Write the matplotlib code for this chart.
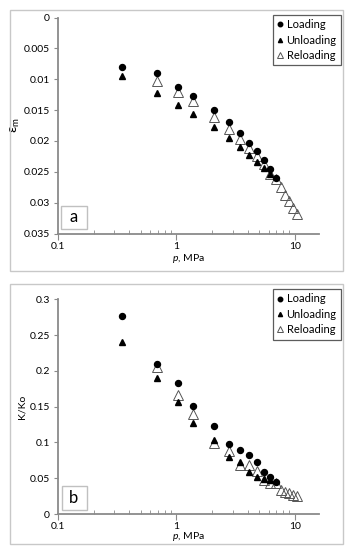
import matplotlib
matplotlib.use('Agg')
import matplotlib.pyplot as plt
from matplotlib.patches import Rectangle
from matplotlib.ticker import LogLocator, FixedLocator, NullFormatter, FuncFormatter

plt.rcParams['font.family'] = ['Lato', 'DejaVu Sans']
plt.rcParams['mathtext.fontset'] = 'custom'
plt.rcParams['mathtext.rm'] = 'Lato'
plt.rcParams['mathtext.it'] = 'Lato:italic'

# pressure steps, MPa
p_load = [0.345, 0.69, 1.03, 1.38, 2.07, 2.76, 3.45, 4.14, 4.83, 5.52, 6.21, 6.90]
p_unload = [0.345, 0.69, 1.03, 1.38, 2.07, 2.76, 3.45, 4.14, 4.83, 5.52, 6.21]
p_reload = [0.69, 1.03, 1.38, 2.07, 2.76, 3.45, 4.14, 4.83, 5.52, 6.21, 6.90,
            7.58, 8.27, 8.96, 9.65, 10.34]

# panel a: strain
eps_load = [0.0080, 0.0090, 0.0112, 0.0128, 0.0150, 0.0170, 0.0187, 0.0203,
            0.0217, 0.0231, 0.0246, 0.0260]
eps_unload = [0.0095, 0.0123, 0.0141, 0.0156, 0.0177, 0.0195, 0.0210, 0.0222,
              0.0234, 0.0244, 0.0254]
eps_reload = [0.0103, 0.0120, 0.0135, 0.0161, 0.0181, 0.0197, 0.0212, 0.0225,
              0.0238, 0.0253, 0.0262, 0.0275, 0.0287, 0.0298, 0.0308, 0.0319]

# panel b: K/Ko
k_load = [0.276, 0.209, 0.183, 0.151, 0.123, 0.098, 0.090, 0.082, 0.073,
          0.059, 0.052, 0.045]
k_unload = [0.240, 0.190, 0.156, 0.127, 0.103, 0.079, 0.072, 0.058, 0.052,
            0.049, 0.047]
k_reload = [0.206, 0.166, 0.140, 0.099, 0.088, 0.069, 0.068, 0.060, 0.047,
            0.044, 0.043, 0.034, 0.031, 0.029, 0.0265, 0.0255]

W, H = 353, 550
fig = plt.figure(figsize=(W / 100, H / 100), dpi=100)

def px_axes(x0, y0, x1, y1):
    return fig.add_axes([x0 / W, 1 - y1 / H, (x1 - x0) / W, (y1 - y0) / H])

def frame(y0, y1):
    fig.patches.append(Rectangle((9.5 / W, 1 - y1 / H), (343 - 9.5) / W, (y1 - y0) / H,
                                 transform=fig.transFigure, fill=False,
                                 edgecolor='#c8c8c8', lw=1.0))

def style(ax):
    for s in ['top', 'right']:
        ax.spines[s].set_visible(False)
    for s in ['left', 'bottom']:
        ax.spines[s].set_color('#8a8a8a')
        ax.spines[s].set_linewidth(1.3)
    ax.set_xscale('log')
    ax.set_xlim(0.1, 16)
    ax.xaxis.set_major_locator(FixedLocator([0.1, 1, 10]))
    ax.xaxis.set_major_formatter(FuncFormatter(lambda v, pos: '%g' % v))
    ax.xaxis.set_minor_locator(LogLocator(base=10, subs=range(2, 10)))
    ax.xaxis.set_minor_formatter(NullFormatter())
    ax.tick_params(axis='x', which='major', direction='out', length=4, color='#8a8a8a',
                   labelsize=7.5, pad=2)
    ax.tick_params(axis='x', which='minor', direction='in', length=3, color='#8a8a8a')
    ax.tick_params(axis='y', direction='out', length=3, color='#8a8a8a', labelsize=7.5, pad=3)
    ax.set_xlabel(r'$p$, MPa', fontsize=7.5, labelpad=1)

def draw(ax, yl, yu, yr):
    ax.plot(p_load, yl, 'o', color='black', ms=4.3, label='Loading', zorder=3)
    ax.plot(p_unload, yu, '^', color='black', ms=4.0, label='Unloading', zorder=3)
    ax.plot(p_reload, yr, '^', mfc='none', mec='#555555', mew=0.7, ms=6.5,
            label='Reloading', zorder=2)

def legend(ax, top):
    leg = ax.legend(loc='upper right', bbox_to_anchor=(341 / W, 1 - top / H),
                    bbox_transform=fig.transFigure, fontsize=8, frameon=True,
                    fancybox=False, edgecolor='#333333', handlelength=0.5,
                    handletextpad=0.3, borderpad=0.4, labelspacing=0.4,
                    borderaxespad=0, markerscale=0.75)
    leg.get_frame().set_linewidth(0.9)

def tag(letter, x0, y0, x1, y1):
    fig.patches.append(Rectangle((x0 / W, 1 - y1 / H), (x1 - x0) / W, (y1 - y0) / H,
                                 transform=fig.transFigure, fill=False,
                                 edgecolor='#c0c0c0', lw=1.0, zorder=5))
    fig.text((x0 + x1) / 2 / W, 1 - (y0 + y1) / 2 / H, letter, fontsize=12,
             ha='center', va='center')

# panel a
frame(9.5, 271)
ax1 = px_axes(58, 17.5, 319, 233.5)
style(ax1)
draw(ax1, eps_load, eps_unload, eps_reload)
ax1.set_ylim(0.035, 0)
ax1.set_yticks([0, 0.005, 0.01, 0.015, 0.02, 0.025, 0.03, 0.035])
ax1.yaxis.set_major_formatter(FuncFormatter(lambda v, pos: '%g' % v))
ax1.set_ylabel(r'ε$_\mathrm{m}$', fontsize=10, labelpad=1)
legend(ax1, 14.7)
tag('a', 61, 206, 87, 228.5)

# panel b
frame(283.5, 543.5)
ax2 = px_axes(58, 299.3, 319, 514)
style(ax2)
draw(ax2, k_load, k_unload, k_reload)
ax2.set_ylim(0, 0.3)
ax2.set_yticks([0, 0.05, 0.1, 0.15, 0.2, 0.25, 0.3])
ax2.yaxis.set_major_formatter(FuncFormatter(lambda v, pos: '%g' % v))
ax2.set_ylabel('K/Ko', fontsize=7.5, labelpad=2)
ax2.xaxis.labelpad = -1
legend(ax2, 289)
tag('b', 61.5, 486, 86.5, 509.5)

fig.savefig('out.png', dpi=100)
